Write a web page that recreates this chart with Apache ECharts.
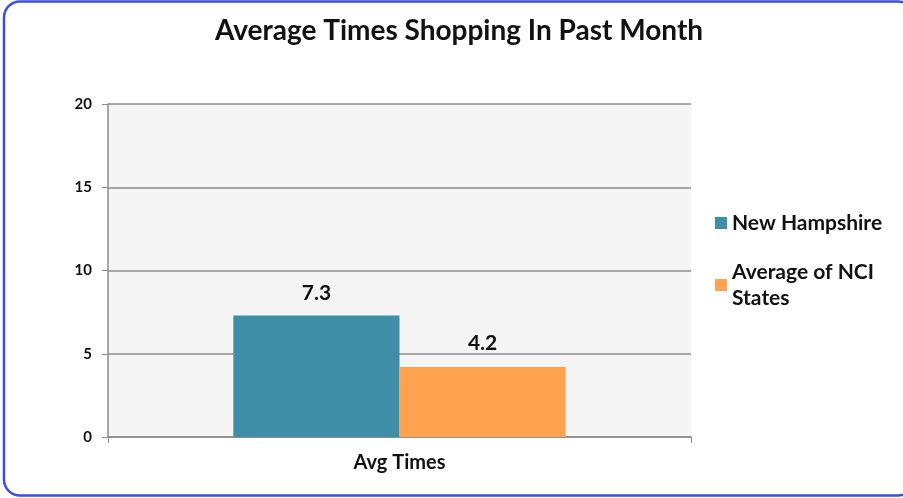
<!DOCTYPE html>
<html><head><meta charset="utf-8">
<script src="https://cdn.jsdelivr.net/npm/echarts@6/dist/echarts.min.js"></script>
<style>html,body{margin:0;padding:0;background:#fff}#c{width:903px;height:498px}</style>
</head><body><div id="c"></div>
<script>
var categories = ["Avg Times"];
var seriesNames = ["New Hampshire", "Average of NCI\nStates"];
var nhValues = [7.3];
var nciValues = [4.2];
var yTicks = [0, 5, 10, 15, 20];

var chart = echarts.init(document.getElementById('c'));
var font = 'Lato, "Open Sans", sans-serif';
chart.setOption({
  animation: false,
  backgroundColor: '#fff',
  title: {
    text: 'Average Times Shopping In Past Month',
    left: 454, top: 12, textAlign: 'center',
    textStyle: {fontFamily: font, fontSize: 28, fontWeight: 'bold', color: '#111'}
  },
  graphic: [{
    type: 'rect', silent: true, z: 100,
    shape: {x: 4, y: 1.5, width: 910, height: 494, r: 16},
    style: {fill: 'none', stroke: '#3a4fdc', lineWidth: 2.5}
  }],
  legend: {
    orient: 'vertical', left: 710, top: 205, itemGap: 23,
    itemWidth: 12, itemHeight: 12, icon: 'rect',
    textStyle: {fontFamily: font, fontSize: 21, fontWeight: 'bold', color: '#111', lineHeight: 26},
    data: seriesNames
  },
  grid: {left: 108, right: 212, top: 104, bottom: 61, backgroundColor: '#f5f5f5', show: true, borderWidth: 0},
  xAxis: {
    type: 'category', data: categories,
    axisLine: {lineStyle: {color: '#8c8c8c', width: 1.5}},
    axisTick: {show: true, length: 6, lineStyle: {color: '#8c8c8c'}},
    axisLabel: {fontFamily: font, fontSize: 20, fontWeight: 'bold', color: '#111', margin: 16}
  },
  yAxis: {
    type: 'value', min: yTicks[0], max: yTicks[yTicks.length-1], interval: 5,
    axisLine: {show: true, lineStyle: {color: '#8c8c8c', width: 1.5}},
    axisTick: {show: true, length: 6, lineStyle: {color: '#8c8c8c'}},
    splitLine: {lineStyle: {color: '#8c8c8c', width: 1.5}},
    axisLabel: {fontFamily: font, fontSize: 15, fontWeight: 'bold', color: '#111', margin: 16}
  },
  series: [{
    name: seriesNames[0], type: 'bar', data: nhValues, barGap: '0%', barCategoryGap: '43%',
    itemStyle: {color: '#3d8ea6'},
    label: {show: true, position: 'top', distance: 12, fontFamily: font, fontSize: 21, fontWeight: 'bold', color: '#111'}
  }, {
    name: seriesNames[1], type: 'bar', data: nciValues,
    itemStyle: {color: '#ffa24f'},
    label: {show: true, position: 'top', distance: 13, fontFamily: font, fontSize: 21, fontWeight: 'bold', color: '#111'}
  }]
});
</script></body></html>
